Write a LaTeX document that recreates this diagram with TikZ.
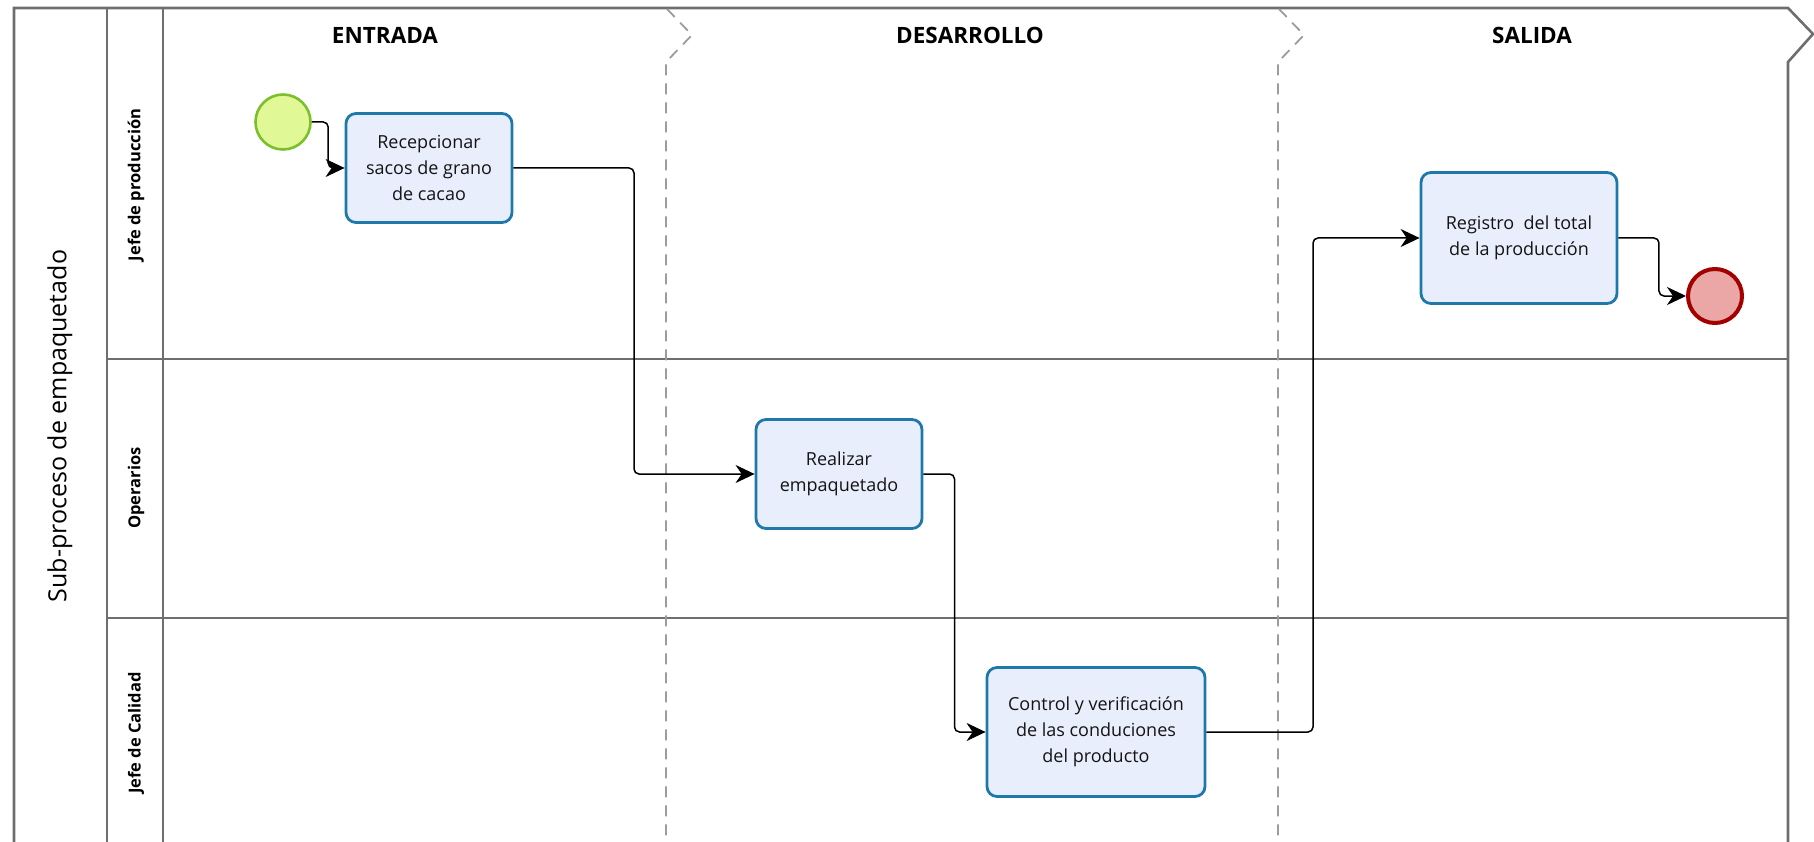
\documentclass[tikz,border=0pt]{standalone}
\usepackage{fontspec}
\setmainfont{Open Sans}
\usetikzlibrary{arrows.meta,calc}

\definecolor{framegray}{HTML}{6E6E6E}
\definecolor{phasegray}{HTML}{9C9C9C}
\definecolor{taskfill}{HTML}{E9EEFC}
\definecolor{taskline}{HTML}{1E78AA}
\definecolor{startfill}{HTML}{E0F996}
\definecolor{startline}{HTML}{7CBF2C}
\definecolor{endfill}{HTML}{EBA6A6}
\definecolor{endline}{HTML}{A30000}

\tikzset{
  poolline/.style={draw=framegray, line width=2.6pt},
  laneline/.style={draw=framegray, line width=1.8pt},
  phaseline/.style={draw=phasegray, line width=1.8pt, dash pattern=on 11pt off 8pt},
  phasetitle/.style={font=\fontsize{22.5}{26}\selectfont\bfseries},
  lanetitle/.style={font=\fontsize{16.5}{19}\selectfont\bfseries, rotate=90},
  pooltitle/.style={font=\fontsize{25}{28}\selectfont, rotate=90},
  task/.style={draw=taskline, fill=taskfill, line width=2.8pt, rounded corners=10pt,
    align=center, inner sep=0pt, font=\fontsize{18}{26}\selectfont, text=black!92},
  startev/.style={circle, draw=startline, fill=startfill, line width=2.6pt, minimum size=55pt, inner sep=0pt},
  endev/.style={circle, draw=endline, fill=endfill, line width=4pt, minimum size=54pt, inner sep=0pt},
  flow/.style={draw=black, line width=1.5pt, rounded corners=5pt,
    -{Stealth[length=19pt, width=18pt, inset=6pt]}},
}

\begin{document}
\begin{tikzpicture}[x=1pt, y=-1pt]
\useasboundingbox (0,0) rectangle (1814,842);

% pool frame with its open right edge
\draw[poolline] (14,850) -- (14,8) -- (1788,8) -- (1813,34) -- (1788,62) -- (1788,850);
\draw[poolline] (107,8) -- (107,850);
\draw[laneline] (163,8) -- (163,850);

% lane separators
\draw[laneline] (107,359) -- (1788,359);
\draw[laneline] (107,618) -- (1788,618);

% phase separators
\draw[phaseline] (667,9) -- (692,35) -- (666,62) -- (666,850);
\draw[phaseline] (1279,9) -- (1304,35) -- (1278,62) -- (1278,850);

% titles
\node[pooltitle] (pool) at (60,426) {Sub-proceso de empaquetado};
\node[lanetitle] (lane1) at (136,185) {Jefe de producción};
\node[lanetitle] (lane2) at (136,488) {Operarios};
\node[lanetitle] (lane3) at (136,733) {Jefe de Calidad};
\node[phasetitle] (ph1) at (385,35) {ENTRADA};
\node[phasetitle] (ph2) at (970,35) {DESARROLLO};
\node[phasetitle] (ph3) at (1532,35) {SALIDA};

% events and tasks
\node[startev] (start) at (283,122) {};
\node[task, minimum width=166pt, minimum height=109pt] (rec) at (429,168)
  {Recepcionar\\sacos de grano\\de cacao};
\node[task, minimum width=166pt, minimum height=109pt] (real) at (839,474)
  {Realizar\\empaquetado};
\node[task, minimum width=218pt, minimum height=129pt] (ctrl) at (1096,732)
  {Control y verificación\\de las conduciones\\del producto};
\node[task, minimum width=196pt, minimum height=131pt] (reg) at (1519,238)
  {Registro~ del total\\de la producción};
\node[endev] (end) at (1715,296) {};

% sequence flows
\coordinate (m0) at ($(start.east)!0.5!(rec.west)$);
\coordinate (m1) at ($(rec.east)!0.5!(real.west)$);
\coordinate (m2) at ($(real.east)!0.5!(ctrl.west)$);
\coordinate (m3) at ($(ctrl.east)!0.5!(reg.west)$);
\coordinate (m4) at ($(reg.east)!0.6!(end.west)$);

\draw[flow] (start.east) -| (m0 |- rec.west) -- (rec.west);
\draw[flow] (rec.east) -| (m1 |- real.west) -- (real.west);
\draw[flow] (real.east) -| (m2 |- ctrl.west) -- (ctrl.west);
\draw[flow] (ctrl.east) -| (m3 |- reg.west) -- (reg.west);
\draw[flow] (reg.east) -| (m4 |- end.west) -- (end.west);
\end{tikzpicture}
\end{document}
